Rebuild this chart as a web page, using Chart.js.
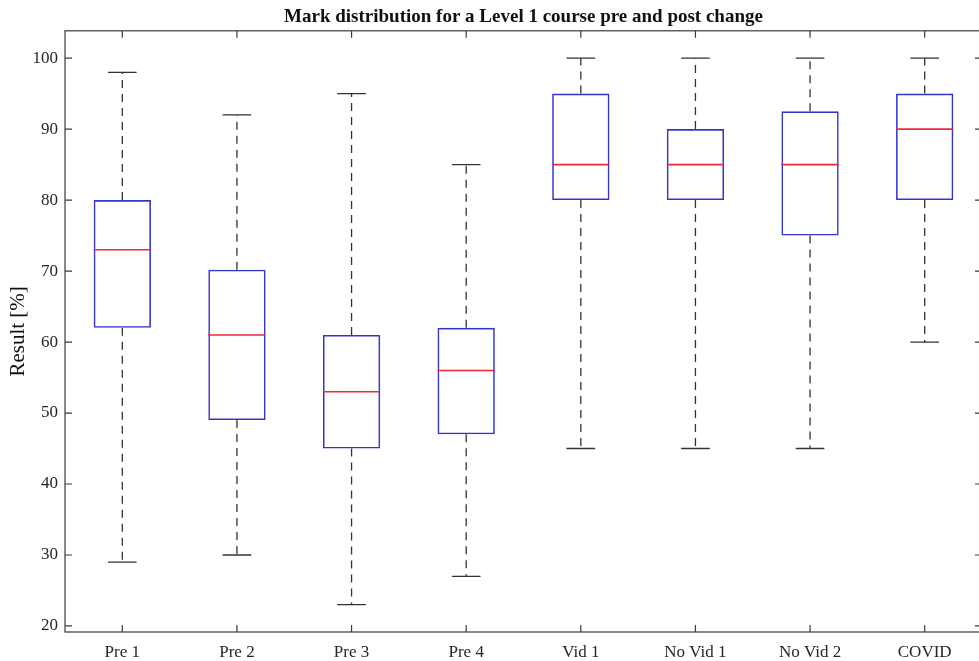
<!DOCTYPE html>
<html>
<head>
<meta charset="utf-8">
<title>Mark distribution</title>
<script src="https://cdn.jsdelivr.net/npm/chart.js@4"></script>
<style>
    html, body { margin: 0; padding: 0; background: #fff; overflow: hidden; }
    #wrap { width: 984px; height: 661px; }
</style>
</head>
<body>
<div id="wrap"><canvas id="boxChart" width="984" height="661"></canvas></div>
<script>
// data
const categories = ['Pre 1', 'Pre 2', 'Pre 3', 'Pre 4', 'Vid 1', 'No Vid 1', 'No Vid 2', 'COVID'];
const whiskerLow = [29, 30, 23, 27, 45, 45, 45, 60];
const quartile1 = [62, 49, 45, 47, 80, 80, 75, 80];
const medians = [73, 61, 53, 56, 85, 85, 85, 90];
const quartile3 = [80, 70.2, 61, 62, 95, 90, 92.5, 95];
const whiskerHigh = [98, 92, 95, 85, 100, 100, 100, 100];
const yTicks = [20, 30, 40, 50, 60, 70, 80, 90, 100];

const axisColor = '#3a3a3a';
const serif = '"Liberation Serif", "DejaVu Serif", serif';

// whiskers, caps and medians
const boxExtras = {
    id: 'boxExtras',
    afterDatasetsDraw(chart) {
        const ctx = chart.ctx;
        const x = chart.scales.x;
        const y = chart.scales.y;
        const meta = chart.getDatasetMeta(0);
        const unit = x.getPixelForValue(1) - x.getPixelForValue(0);
        const capHalf = unit * 0.125;
        ctx.save();
        categories.forEach((c, i) => {
            const cx = x.getPixelForValue(i);
            const half = meta.data[i].width / 2;
            // dashed whiskers
            ctx.strokeStyle = '#333';
            ctx.lineWidth = 1.3;
            ctx.setLineDash([8, 6]);
            ctx.beginPath();
            ctx.moveTo(cx, y.getPixelForValue(quartile3[i]));
            ctx.lineTo(cx, y.getPixelForValue(whiskerHigh[i]));
            ctx.moveTo(cx, y.getPixelForValue(quartile1[i]));
            ctx.lineTo(cx, y.getPixelForValue(whiskerLow[i]));
            ctx.stroke();
            // caps
            ctx.setLineDash([]);
            ctx.beginPath();
            ctx.moveTo(cx - capHalf, y.getPixelForValue(whiskerHigh[i]));
            ctx.lineTo(cx + capHalf, y.getPixelForValue(whiskerHigh[i]));
            ctx.moveTo(cx - capHalf, y.getPixelForValue(whiskerLow[i]));
            ctx.lineTo(cx + capHalf, y.getPixelForValue(whiskerLow[i]));
            ctx.stroke();
            // median
            ctx.strokeStyle = '#ee2a3a';
            ctx.lineWidth = 1.6;
            ctx.beginPath();
            ctx.moveTo(cx - half, y.getPixelForValue(medians[i]));
            ctx.lineTo(cx + half, y.getPixelForValue(medians[i]));
            ctx.stroke();
        });
        ctx.restore();
    }
};

// matlab style frame with inward ticks
const frame = {
    id: 'frame',
    afterDraw(chart) {
        const ctx = chart.ctx;
        const a = chart.chartArea;
        const x = chart.scales.x;
        const y = chart.scales.y;
        const tl = 7;
        ctx.save();
        ctx.strokeStyle = axisColor;
        ctx.lineWidth = 1.2;
        ctx.strokeRect(a.left, a.top, a.right - a.left, a.bottom - a.top);
        ctx.beginPath();
        yTicks.forEach(v => {
            const py = y.getPixelForValue(v);
            ctx.moveTo(a.left, py);
            ctx.lineTo(a.left + tl, py);
            ctx.moveTo(a.right, py);
            ctx.lineTo(a.right - tl, py);
        });
        categories.forEach((c, i) => {
            const px = x.getPixelForValue(i);
            ctx.moveTo(px, a.bottom);
            ctx.lineTo(px, a.bottom - tl);
            ctx.moveTo(px, a.top);
            ctx.lineTo(px, a.top + tl);
        });
        ctx.stroke();
        ctx.restore();
    }
};

const ctx = document.getElementById('boxChart').getContext('2d');
new Chart(ctx, {
    type: 'bar',
    data: {
        labels: categories,
        datasets: [{
            label: 'IQR',
            data: categories.map((c, i) => [quartile1[i], quartile3[i]]),
            backgroundColor: 'rgba(0,0,0,0)',
            borderColor: '#3535cc',
            borderWidth: 1.6,
            borderSkipped: false,
            categoryPercentage: 1,
            barPercentage: 0.5
        }]
    },
    options: {
        responsive: false,
        animation: false,
        layout: { padding: { left: 0, right: 2, top: 0, bottom: 0 } },
        plugins: {
            legend: { display: false },
            tooltip: { enabled: false },
            title: {
                display: true,
                text: 'Mark distribution for a Level 1 course pre and post change',
                color: '#111',
                fullSize: false,
                font: { family: serif, size: 19, weight: 'bold', lineHeight: 1.2 },
                padding: { top: 6, bottom: 2 }
            }
        },
        scales: {
            x: {
                grid: { display: false, drawTicks: false },
                border: { display: false },
                ticks: { color: '#262626', padding: 10, font: { family: serif, size: 17 } },
                afterFit(s) { s.height = 29; }
            },
            y: {
                min: 19.15,
                max: 103.85,
                grid: { display: false, drawTicks: false },
                border: { display: false },
                ticks: { color: '#262626', padding: 7, font: { family: serif, size: 17 } },
                afterBuildTicks(s) { s.ticks = yTicks.map(v => ({ value: v })); },
                afterFit(s) { s.width = 65; },
                title: {
                    display: true,
                    text: 'Result [%]',
                    color: '#111',
                    padding: { top: 6, bottom: 0 },
                    font: { family: serif, size: 21 }
                }
            }
        }
    },
    plugins: [boxExtras, frame]
});
</script>
</body>
</html>
